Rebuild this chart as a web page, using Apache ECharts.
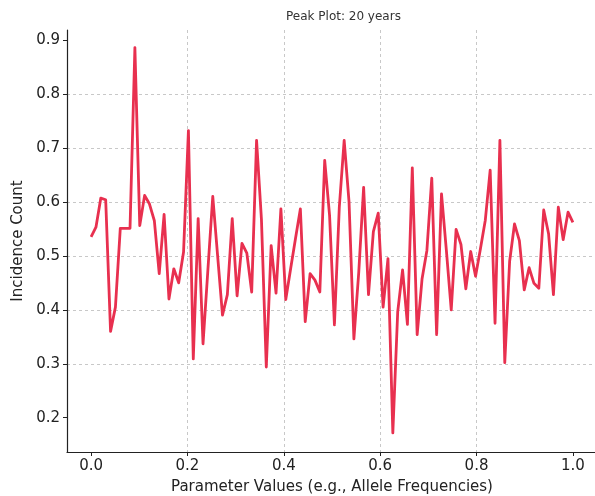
<!DOCTYPE html>
<html>
<head>
<meta charset="utf-8">
<script src="https://cdn.jsdelivr.net/npm/echarts@6/dist/echarts.min.js"></script>
<style>
  html, body { margin: 0; padding: 0; background: #fff; }
  #main { width: 595px; height: 496px; }
</style>
</head>
<body>
<div id="main"></div>
<script>
// incidence counts, evenly spaced parameter values 0..1
var counts = [
  0.535, 0.553, 0.607, 0.604, 0.360, 0.405, 0.551, 0.551, 0.551, 0.886,
  0.556, 0.612, 0.596, 0.565, 0.467, 0.577, 0.420, 0.476, 0.450, 0.507,
  0.732, 0.309, 0.569, 0.337, 0.474, 0.610, 0.500, 0.390, 0.428, 0.569,
  0.426, 0.523, 0.505, 0.433, 0.714, 0.568, 0.294, 0.519, 0.431, 0.587,
  0.419, 0.476, 0.532, 0.587, 0.378, 0.467, 0.455, 0.433, 0.677, 0.575,
  0.372, 0.590, 0.714, 0.600, 0.346, 0.470, 0.627, 0.428, 0.545, 0.579,
  0.405, 0.495, 0.172, 0.396, 0.474, 0.373, 0.663, 0.354, 0.457, 0.510,
  0.644, 0.354, 0.615, 0.510, 0.400, 0.549, 0.521, 0.439, 0.508, 0.462,
  0.513, 0.566, 0.659, 0.375, 0.714, 0.302, 0.490, 0.559, 0.528, 0.437,
  0.478, 0.449, 0.440, 0.585, 0.541, 0.428, 0.590, 0.530, 0.581, 0.562
];
var xTicks = [0.0, 0.2, 0.4, 0.6, 0.8, 1.0];
var yTicks = [0.2, 0.3, 0.4, 0.5, 0.6, 0.7, 0.8, 0.9];

var n = counts.length;
var points = counts.map(function (v, i) { return [i / (n - 1), v]; });

var font = 'DejaVu Sans';
var myChart = echarts.init(document.getElementById('main'));
var option = {
  animation: false,
  title: {
    text: 'Peak Plot: 20 years',
    left: 281,
    top: 6,
    textStyle: { fontFamily: font, fontSize: 12, fontWeight: 'normal', color: '#333' }
  },
  grid: { left: 67, right: -2, top: 30, bottom: 44, outerBoundsMode: 'none', containLabel: false },
  xAxis: {
    type: 'value',
    min: -0.05,
    max: 1.05,
    minInterval: 0.2,
    maxInterval: 0.2,
    name: 'Parameter Values (e.g., Allele Frequencies)',
    nameLocation: 'middle',
    nameGap: 28,
    nameTextStyle: { fontFamily: font, fontSize: 15, color: '#222' },
    axisLine: { onZero: false, lineStyle: { color: '#222', width: 1.2 } },
    axisTick: { show: true, length: 4, customValues: xTicks, lineStyle: { color: '#222', width: 1 } },
    axisLabel: {
      customValues: xTicks,
      margin: 7,
      fontFamily: font, fontSize: 15, color: '#222',
      formatter: function (v) { return v.toFixed(1); }
    },
    splitLine: {
      show: true, showMinLine: false, showMaxLine: false,
      lineStyle: { color: '#c8c8c8', type: [3, 3], width: 1 }
    }
  },
  yAxis: {
    type: 'value',
    min: 0.1365,
    max: 0.9185,
    minInterval: 0.1,
    maxInterval: 0.1,
    name: 'Incidence Count',
    nameLocation: 'middle',
    nameGap: 32,
    nameTextStyle: { fontFamily: font, fontSize: 15, color: '#222' },
    axisLine: { show: true, onZero: false, lineStyle: { color: '#222', width: 1.2 } },
    axisTick: { show: true, length: 4, customValues: yTicks, lineStyle: { color: '#222', width: 1 } },
    axisLabel: {
      customValues: yTicks,
      margin: 7,
      fontFamily: font, fontSize: 15, color: '#222',
      formatter: function (v) { return v.toFixed(1); }
    },
    splitLine: {
      show: true, showMinLine: false, showMaxLine: false,
      lineStyle: { color: '#c8c8c8', type: [3, 3], width: 1 }
    }
  },
  series: [{
    type: 'line',
    data: points,
    showSymbol: false,
    lineStyle: { color: '#e8304f', width: 2.8, join: 'round' }
  }]
};
myChart.setOption(option);
</script>
</body>
</html>
